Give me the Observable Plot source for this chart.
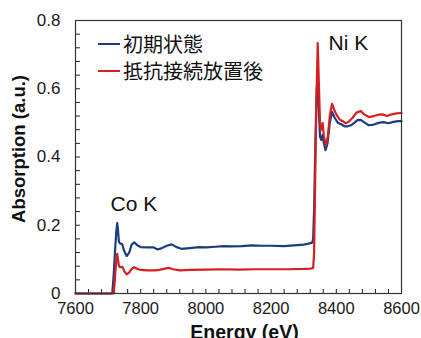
<!DOCTYPE html>
<html>
<head>
<meta charset="utf-8">
<script src="https://cdn.jsdelivr.net/npm/d3@7"></script>
<script src="https://cdn.jsdelivr.net/npm/@observablehq/plot@0.6"></script>
<style>
  body { margin: 0; background: white; }
  #wrap { position: relative; width: 421px; height: 338px; overflow: hidden; }
  .leg { position: absolute; left: 98px; font-family: "Noto Sans CJK JP", sans-serif; font-size: 20px; color: #111; display: flex; align-items: center; height: 24px; line-height: 24px; }
  .leg span.sw { display: inline-block; width: 22px; height: 2px; margin-right: 3px; }
</style>
</head>
<body>
<div id="wrap"></div>
<script>
// Series names and colours
const seriesNames = ["初期状態", "抵抗接続放置後"];
const seriesColors = ["#1b3c7e", "#d61f1f"];

// 初期状態 (blue)
const blueE = [7600, 7710, 7713, 7717, 7721, 7725, 7728, 7730, 7733, 7737, 7743, 7749, 7757, 7765, 7772, 7780, 7790, 7800, 7820, 7840, 7852, 7865, 7880, 7895, 7910, 7925, 7950, 7980, 8000, 8030, 8055, 8080, 8110, 8140, 8170, 8200, 8240, 8270, 8300, 8315, 8326, 8329, 8332, 8336, 8340, 8343, 8346, 8350, 8354, 8358, 8362, 8367, 8373, 8380, 8387, 8395, 8405, 8415, 8425, 8435, 8445, 8455, 8465, 8475, 8488, 8500, 8515, 8530, 8545, 8560, 8575, 8590, 8600];
const blueA = [0, 0, 0.003, 0.05, 0.12, 0.18, 0.206, 0.19, 0.152, 0.146, 0.145, 0.125, 0.11, 0.12, 0.143, 0.15, 0.141, 0.136, 0.135, 0.135, 0.129, 0.133, 0.140, 0.144, 0.136, 0.131, 0.133, 0.136, 0.135, 0.137, 0.139, 0.138, 0.139, 0.141, 0.140, 0.140, 0.139, 0.141, 0.143, 0.146, 0.149, 0.16, 0.25, 0.45, 0.60, 0.64, 0.55, 0.46, 0.45, 0.465, 0.44, 0.42, 0.44, 0.50, 0.532, 0.515, 0.500, 0.496, 0.490, 0.490, 0.493, 0.500, 0.508, 0.509, 0.500, 0.493, 0.495, 0.500, 0.502, 0.499, 0.503, 0.505, 0.505];

// 抵抗接続放置後 (red)
const redE = [7600, 7716, 7719, 7722, 7725, 7728, 7730, 7733, 7737, 7744, 7750, 7757, 7765, 7773, 7780, 7790, 7800, 7820, 7845, 7860, 7875, 7886, 7900, 7920, 7950, 8000, 8050, 8100, 8150, 8200, 8250, 8300, 8322, 8329, 8332, 8335, 8339, 8343, 8347, 8350, 8354, 8358, 8362, 8368, 8374, 8380, 8387, 8393, 8400, 8410, 8420, 8428, 8438, 8450, 8462, 8475, 8485, 8500, 8515, 8530, 8541, 8556, 8570, 8585, 8600];
const redA = [0, 0, 0.02, 0.06, 0.095, 0.116, 0.102, 0.082, 0.077, 0.078, 0.065, 0.056, 0.062, 0.073, 0.077, 0.072, 0.069, 0.068, 0.068, 0.070, 0.073, 0.075, 0.071, 0.068, 0.069, 0.070, 0.071, 0.070, 0.071, 0.071, 0.071, 0.072, 0.073, 0.075, 0.12, 0.32, 0.56, 0.734, 0.60, 0.50, 0.48, 0.50, 0.46, 0.434, 0.46, 0.52, 0.556, 0.54, 0.525, 0.510, 0.505, 0.499, 0.503, 0.515, 0.530, 0.535, 0.525, 0.517, 0.520, 0.524, 0.525, 0.520, 0.525, 0.528, 0.529];

// Axis ticks
const xTickValues = [7600, 7800, 8000, 8200, 8400, 8600];
const yTickValues = [0, 0.2, 0.4, 0.6, 0.8];
const xMinorTicks = d3.range(7600, 8601, 40);
const yMinorTicks = d3.range(0, 41, 2).map(d => d / 50);

// Annotations
const annoText = ["Co K", "Ni K"];
const annoE = [7779, 8437];
const annoA = [0.262, 0.734];

const blue = blueE.map((e, i) => ({e, a: blueA[i]}));
const red = redE.map((e, i) => ({e, a: redA[i]}));
const annos = annoText.map((t, i) => ({t, e: annoE[i], a: annoA[i]}));

const W = 421, H = 338, mL = 75, mR = 20, mT = 20, mB = 45;
const innerW = W - mL - mR, innerH = H - mT - mB;

const chart = Plot.plot({
  width: W, height: H,
  marginLeft: mL, marginRight: mR, marginTop: mT, marginBottom: mB,
  x: {domain: [7600, 8600]},
  y: {domain: [0, 0.8]},
  style: {fontFamily: "'Liberation Sans', Arial, sans-serif", color: "#1a1a1a", background: "white", overflow: "visible"},
  marks: [
    Plot.tickX(xMinorTicks, {x: d => d, insetTop: innerH - 4, stroke: "#222", strokeWidth: 1}),
    Plot.tickY(yMinorTicks, {y: d => d, insetRight: innerW - 5, stroke: "#222", strokeWidth: 1}),
    Plot.axisX(xTickValues, {tickSize: 0, tickPadding: 9, fontSize: 16.5, tickFormat: d => String(d), label: null}),
    Plot.axisY(yTickValues, {tickSize: 0, tickPadding: 15, fontSize: 17, tickFormat: d => d === 0 ? "0" : d.toFixed(1), label: null}),
    Plot.line(blue, {x: "e", y: "a", stroke: seriesColors[0], strokeWidth: 2.2}),
    Plot.line(red, {x: "e", y: "a", stroke: seriesColors[1], strokeWidth: 2.2}),
    Plot.frame({stroke: "#333", strokeWidth: 1.2}),
    Plot.text(annos, {x: "e", y: "a", text: "t", fontSize: 21, fill: "#111"}),
    Plot.text(["Energy (eV)"], {frameAnchor: "bottom", lineAnchor: "middle", textAnchor: "middle", dx: 6, dy: 39.3, fontSize: 19.5, fontWeight: "bold", fill: "#111"}),
    Plot.text(["Absorption (a.u.)"], {frameAnchor: "left", lineAnchor: "middle", textAnchor: "middle", rotate: -90, dx: -56, dy: -8, fontSize: 18.5, fontWeight: "bold", fill: "#111"})
  ]
});

const wrap = document.getElementById("wrap");
wrap.appendChild(chart);

const legendTops = [32, 59];
seriesNames.forEach((name, i) => {
  const d = document.createElement("div");
  d.className = "leg";
  d.style.top = legendTops[i] + "px";
  const sw = document.createElement("span");
  sw.className = "sw";
  sw.style.background = seriesColors[i];
  d.appendChild(sw);
  d.appendChild(document.createTextNode(name));
  wrap.appendChild(d);
});
</script>
</body>
</html>
